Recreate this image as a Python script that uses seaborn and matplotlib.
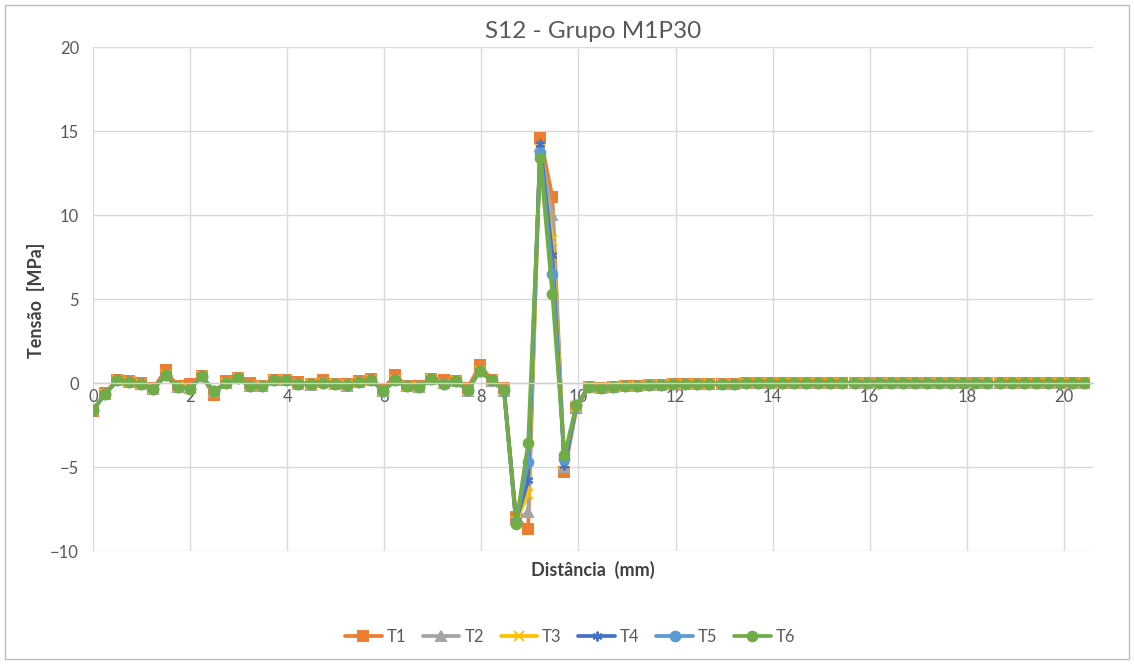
import matplotlib
matplotlib.use("Agg")
import matplotlib.pyplot as plt
from matplotlib.lines import Line2D
from matplotlib.patches import Rectangle
import numpy as np
import pandas as pd
import seaborn as sns

# Measurement grid along the specimen (mm)
step_mm = 0.249
n_points = 83

series_names = ["T1", "T2", "T3", "T4", "T5", "T6"]

# Stress readings (MPa) for points 0..40 of each test
t1_head = [-1.65, -0.60, 0.20, 0.10, 0.00, -0.30, 0.75, -0.20, -0.05, 0.40,
           -0.70, 0.10, 0.30, 0.00, -0.15, 0.20, 0.20, 0.05, -0.05, 0.20,
           -0.05, -0.05, 0.10, 0.25, -0.35, 0.45, -0.20, -0.15, 0.25, 0.20,
           0.10, -0.30, 1.05, 0.20, -0.30, -8.00, -8.70, 14.60, 11.10, -5.30,
           -1.50]
t2_head = [-1.60, -0.65, 0.15, 0.05, -0.05, -0.35, 0.50, -0.25, -0.30, 0.40,
           -0.55, 0.00, 0.30, -0.15, -0.20, 0.15, 0.20, -0.05, -0.10, 0.05,
           -0.05, -0.15, 0.05, 0.20, -0.45, 0.20, -0.20, -0.25, 0.25, 0.00,
           0.10, -0.45, 0.75, 0.10, -0.45, -8.10, -7.70, 14.10, 10.00, -5.00,
           -1.40]
t3_head = [-1.60, -0.65, 0.15, 0.05, -0.05, -0.35, 0.45, -0.25, -0.35, 0.40,
           -0.50, 0.00, 0.30, -0.20, -0.20, 0.15, 0.20, -0.05, -0.05, 0.00,
           -0.05, -0.10, 0.05, 0.20, -0.45, 0.15, -0.20, -0.25, 0.25, -0.05,
           0.10, -0.40, 0.70, 0.15, -0.40, -8.20, -6.60, 13.90, 8.50, -4.80,
           -1.35]
t4_head = [-1.60, -0.65, 0.15, 0.05, -0.05, -0.35, 0.45, -0.25, -0.35, 0.40,
           -0.50, 0.00, 0.30, -0.20, -0.20, 0.15, 0.20, -0.05, -0.05, 0.00,
           -0.05, -0.20, 0.05, 0.20, -0.45, 0.15, -0.20, -0.25, 0.25, -0.05,
           0.10, -0.40, 0.70, 0.15, -0.40, -8.20, -5.80, 14.20, 7.60, -4.90,
           -1.35]
t5_head = [-1.60, -0.65, 0.15, 0.05, -0.05, -0.35, 0.45, -0.25, -0.35, 0.40,
           -0.50, 0.00, 0.30, -0.20, -0.20, 0.15, 0.20, -0.05, -0.05, 0.00,
           -0.05, -0.10, 0.05, 0.20, -0.45, 0.15, -0.20, -0.25, 0.25, -0.05,
           0.10, -0.40, 0.70, 0.15, -0.40, -8.30, -4.70, 13.70, 6.50, -4.50,
           -1.30]
t6_head = [-1.60, -0.65, 0.15, 0.05, -0.05, -0.35, 0.45, -0.25, -0.35, 0.40,
           -0.50, 0.00, 0.30, -0.20, -0.20, 0.15, 0.20, -0.05, -0.05, 0.00,
           -0.05, -0.10, 0.05, 0.20, -0.45, 0.15, -0.20, -0.25, 0.25, -0.05,
           0.10, -0.40, 0.70, 0.15, -0.40, -8.40, -3.60, 13.40, 5.30, -4.30,
           -1.30]

# Points 41..82: stress relaxes to zero, identical in every test
decay_tail = [-0.25, -0.30, -0.25, -0.20, -0.15, -0.12, -0.10, -0.08, -0.06, -0.05,
              -0.04, -0.03, -0.03, -0.02, -0.02, -0.02, -0.02, -0.01, -0.01, -0.01,
              -0.01, -0.01, -0.01, 0.00, 0.00, 0.00, 0.00, 0.00, 0.00, 0.00,
              0.00, 0.00, 0.00, 0.00, 0.00, 0.00, 0.00, 0.00, 0.00, 0.00,
              0.00, 0.00]

heads = [t1_head, t2_head, t3_head, t4_head, t5_head, t6_head]

colors = ["#ED7D31", "#A5A5A5", "#FFC000", "#4472C4", "#5B9BD5", "#70AD47"]
markers = ["s", "^", "x", (6, 2, 0), "o", "o"]

distance = np.arange(n_points) * step_mm
frames = []
for name, head in zip(series_names, heads):
    frames.append(pd.DataFrame({"Distância": distance,
                                "Tensão": head + decay_tail,
                                "Série": name}))
df = pd.concat(frames, ignore_index=True)

sns.set_theme(style="white")
plt.rcParams["font.family"] = ["Lato", "DejaVu Sans"]

W, H = 1134, 664
fig = plt.figure(figsize=(W / 100, H / 100), dpi=100)
fig.patch.set_facecolor("white")
ax = fig.add_axes([93 / W, 1 - 551 / H, 1000 / W, 504 / H])

LW, MS, MEW = 2.7, 7, 1.4
for name, c, m in zip(series_names, colors, markers):
    sub = df[df["Série"] == name]
    sns.lineplot(data=sub, x="Distância", y="Tensão", color=c, marker=m,
                 sort=False, estimator=None, ax=ax, linewidth=LW,
                 markersize=MS, markeredgecolor=c, markeredgewidth=MEW,
                 legend=False)

ax.set_xlim(0, 20.6)
ax.set_ylim(-10, 20)
ax.set_xticks(np.arange(0, 21, 2))
ax.set_yticks(np.arange(-10, 21, 5))
ax.grid(True, color="#d9d9d9", linewidth=1)
ax.set_axisbelow(True)
for side in ["left", "right", "top"]:
    ax.spines[side].set_visible(False)
ax.spines["bottom"].set_position(("data", 0))
ax.spines["bottom"].set_color("#d0d0d0")
ax.spines["bottom"].set_linewidth(1)
ax.tick_params(axis="both", length=0, labelsize=12, labelcolor="#595959")
ax.tick_params(axis="x", pad=4)
ax.tick_params(axis="y", pad=10)
ax.set_xlabel("")
ax.set_ylabel("")

fig.text(593 / W, 1 - 32 / H, "S12 - Grupo M1P30", ha="center", va="center",
         fontsize=17.5, color="#595959")
fig.text(593 / W, 1 - 570 / H, "Distância  (mm)", ha="center", va="center",
         fontsize=13, fontweight="bold", color="#404040")
fig.text(36 / W, 1 - 300 / H, "Tensão  [MPa]", ha="center", va="center",
         rotation=90, fontsize=13, fontweight="bold", color="#404040")

handles = [Line2D([], [], color=c, marker=m, linewidth=LW, markersize=MS,
                  markeredgecolor=c, markeredgewidth=MEW)
           for c, m in zip(colors, markers)]
fig.legend(handles, series_names, loc="center", bbox_to_anchor=(570 / W, 1 - 637 / H),
           ncol=6, frameon=False, fontsize=12, handlelength=2.2,
           columnspacing=1.0, handletextpad=0.3, labelcolor="#595959")

fig.patches.append(Rectangle((5 / W, 5 / H), 1 - 10 / W, 1 - 10 / H,
                             transform=fig.transFigure, fill=False,
                             edgecolor="#bfbfbf", linewidth=1))

fig.savefig("out.png", dpi=100)
